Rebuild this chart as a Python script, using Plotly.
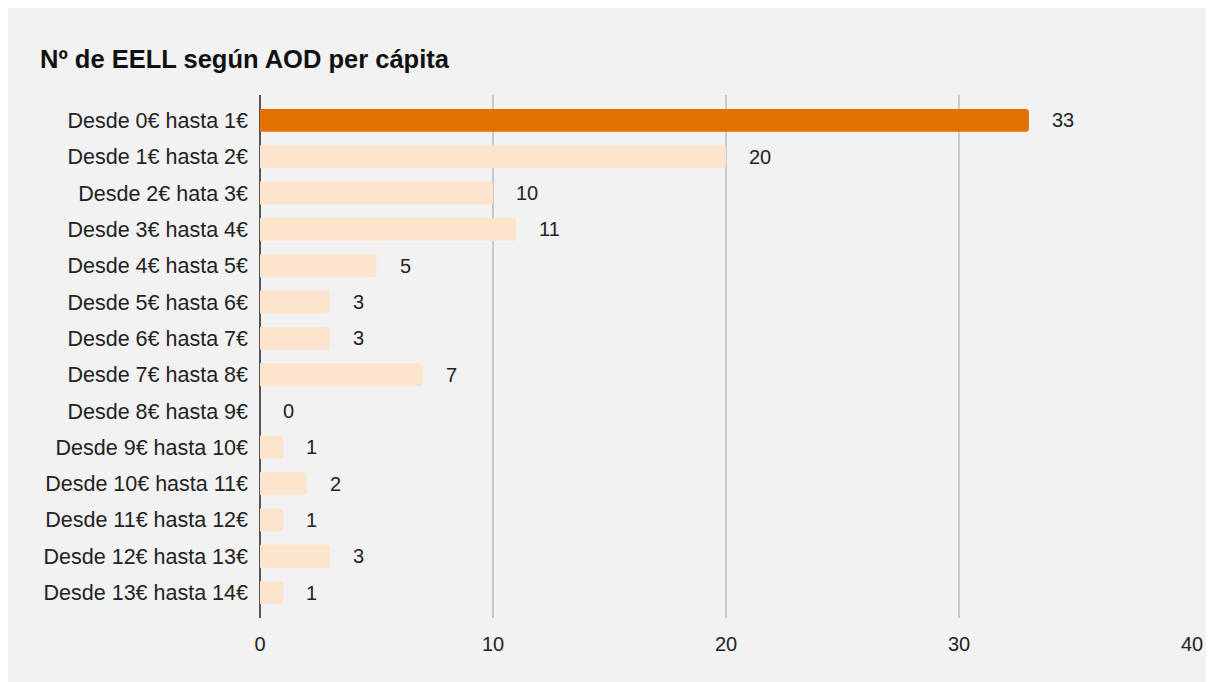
import plotly.graph_objects as go

categories = ["Desde 0€ hasta 1€", "Desde 1€ hasta 2€", "Desde 2€ hata 3€", "Desde 3€ hasta 4€",
              "Desde 4€ hasta 5€", "Desde 5€ hasta 6€", "Desde 6€ hasta 7€", "Desde 7€ hasta 8€",
              "Desde 8€ hasta 9€", "Desde 9€ hasta 10€", "Desde 10€ hasta 11€", "Desde 11€ hasta 12€",
              "Desde 12€ hasta 13€", "Desde 13€ hasta 14€"]
values = [33, 20, 10, 11, 5, 3, 3, 7, 0, 1, 2, 1, 3, 1]
x_ticks = [0, 10, 20, 30, 40]
title = "Nº de EELL según AOD per cápita"

HIGHLIGHT = "#e37100"
LIGHT = "#fde5cd"
colors = [HIGHLIGHT if i == 0 else LIGHT for i in range(len(values))]

# page body has an 8px margin, so the figure starts at (8, 8)
W, H = 1206, 674
ml, mr, mt, mb = 252, 22, 87, 64

fig = go.Figure(go.Bar(
    x=values, y=categories, orientation="h",
    marker=dict(color=colors, line=dict(width=0), cornerradius=3),
    width=0.63, hoverinfo="skip",
))

for c, v in zip(categories, values):
    fig.add_annotation(x=v, y=c, text=str(v), showarrow=False, xanchor="left",
                       xshift=21, font=dict(size=20, color="#222222"))

fig.update_layout(
    width=W, height=H,
    margin=dict(l=ml, r=mr, t=mt, b=mb),
    paper_bgcolor="#f2f2f2", plot_bgcolor="rgba(0,0,0,0)",
    font=dict(family="Liberation Sans, Arial, sans-serif", size=20, color="#222222"),
    showlegend=False,
    title=dict(text="<b>" + title + "</b>", xref="container", yref="container",
               x=32 / W, xanchor="left", y=1 - 51 / H, yanchor="middle",
               font=dict(size=25.5, color="#111111")),
    xaxis=dict(range=[0, 40], tickvals=x_ticks, showgrid=True, gridcolor="#c9c9c9",
               gridwidth=1.5, zeroline=True, zerolinecolor="#555555", zerolinewidth=2,
               showline=False, ticks="", ticklabelstandoff=12, fixedrange=True),
    yaxis=dict(autorange=False, range=[13.7, -0.7], categoryorder="array",
               categoryarray=categories, showgrid=False, zeroline=False, showline=False,
               ticks="", ticklabelstandoff=11, fixedrange=True,
               tickfont=dict(size=21.5)),
)

fig.write_html("out.html")
